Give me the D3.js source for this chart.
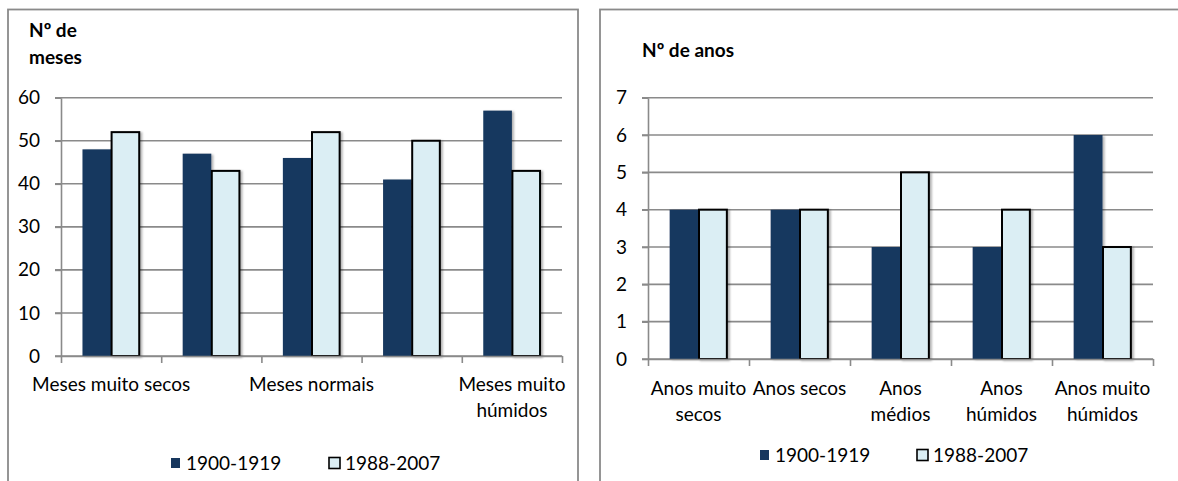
<!DOCTYPE html>
<html>
<head>
<meta charset="utf-8">
<script src="https://cdn.jsdelivr.net/npm/d3@7"></script>
<style>
  body { margin: 0; background: #fff; }
  svg { display: block; font-family: Lato, "Noto Sans", sans-serif; }
</style>
</head>
<body>
<div id="chart"></div>
<script>
const seriesNames = ["1900-1919", "1988-2007"];
const seriesColors = ["#17375e", "#dbeef4"];

const monthCategories = ["Meses muito secos", "Meses secos", "Meses normais", "Meses húmidos", "Meses muito húmidos"];
const months1900 = [48, 47, 46, 41, 57];
const months1988 = [52, 43, 52, 50, 43];
const monthTicks = [0, 10, 20, 30, 40, 50, 60];
// Excel only printed every second label here
const monthLabelLines = [["Meses muito secos"], [], ["Meses normais"], [], ["Meses muito", "húmidos"]];

const yearCategories = ["Anos muito secos", "Anos secos", "Anos médios", "Anos húmidos", "Anos muito húmidos"];
const years1900 = [4, 4, 3, 3, 6];
const years1988 = [4, 4, 5, 4, 3];
const yearTicks = [0, 1, 2, 3, 4, 5, 6, 7];
const yearLabelLines = [["Anos muito", "secos"], ["Anos secos"], ["Anos", "médios"], ["Anos", "húmidos"], ["Anos muito", "húmidos"]];

const width = 1178;
const height = 481;

const svg = d3.select("#chart")
  .append("svg")
  .attr("width", width)
  .attr("height", height);

const defs = svg.append("defs");
defs.append("filter")
  .attr("id", "shadow")
  .attr("x", "-20%").attr("y", "-5%")
  .attr("width", "150%").attr("height", "115%")
  .append("feDropShadow")
  .attr("dx", 2).attr("dy", 1)
  .attr("stdDeviation", 1.2)
  .attr("flood-color", "#000")
  .attr("flood-opacity", 0.3);

function drawPanel(cfg) {
  const g = svg.append("g");

  // frame of the chart area
  g.append("rect")
    .attr("x", cfg.box[0])
    .attr("y", 9.5)
    .attr("width", cfg.box[1] - cfg.box[0])
    .attr("height", 520)
    .attr("fill", "none")
    .attr("stroke", "#8a8a8a")
    .attr("stroke-width", 1.8);

  const y = d3.scaleLinear().domain(cfg.yDomain).range([cfg.y0, cfg.yTop]);
  const xLin = d3.scaleLinear().domain([0, cfg.categories.length]).range([cfg.x0, cfg.x1]);

  const pad = 1.5 / 3.5;
  const x = d3.scaleBand()
    .domain(cfg.categories)
    .range([cfg.x0, cfg.x1])
    .paddingInner(pad)
    .paddingOuter(pad / 2);
  const xs = d3.scaleBand().domain(seriesNames).range([0, x.bandwidth()]);

  // gridlines
  g.append("g")
    .selectAll("line")
    .data(cfg.ticks)
    .join("line")
    .attr("x1", cfg.x0 - 6)
    .attr("x2", cfg.x1)
    .attr("y1", (d) => y(d))
    .attr("y2", (d) => y(d))
    .attr("stroke", "#8a8a8a")
    .attr("stroke-width", 1.6);

  // y axis
  const yAxis = g.append("g")
    .attr("transform", `translate(${cfg.x0},0)`)
    .call(d3.axisLeft(y)
      .tickValues(cfg.ticks)
      .tickFormat(d3.format("d"))
      .tickSize(6)
      .tickSizeOuter(0)
      .tickPadding(15));
  yAxis.select(".domain").attr("stroke", "#8a8a8a").attr("stroke-width", 1.6);
  yAxis.selectAll(".tick line").attr("stroke", "#8a8a8a").attr("stroke-width", 1.6);
  yAxis.selectAll(".tick text")
    .attr("font-size", 19)
    .attr("font-family", "Lato, sans-serif")
    .attr("fill", "#000");

  // bars
  const rows = cfg.categories.map((c, i) => ({ cat: c, vals: [cfg.s1[i], cfg.s2[i]] }));
  const groups = g.append("g")
    .selectAll("g")
    .data(rows)
    .join("g")
    .attr("transform", (d) => `translate(${x(d.cat)},0)`);

  groups.selectAll("rect")
    .data((d) => d.vals.map((v, k) => ({ name: seriesNames[k], v, k })))
    .join("rect")
    .attr("x", (d) => xs(d.name) + (d.k === 1 ? 0.5 : 0))
    .attr("width", (d) => xs.bandwidth() - (d.k === 1 ? 1 : 0))
    .attr("y", (d) => y(d.v))
    .attr("height", (d) => y(0) - y(d.v))
    .attr("fill", (d) => seriesColors[d.k])
    .attr("stroke", (d) => (d.k === 1 ? "#000" : "none"))
    .attr("stroke-width", 2)
    .attr("filter", "url(#shadow)");

  // x axis with ticks on category boundaries
  const xAxis = g.append("g")
    .attr("transform", `translate(0,${cfg.y0})`)
    .call(d3.axisBottom(xLin)
      .tickValues(d3.range(cfg.categories.length + 1))
      .tickFormat("")
      .tickSize(7)
      .tickSizeOuter(0));
  xAxis.select(".domain").attr("stroke", "#8a8a8a").attr("stroke-width", 1.6);
  xAxis.selectAll(".tick line").attr("stroke", "#8a8a8a").attr("stroke-width", 1.6);

  // category labels
  const labels = g.append("g")
    .selectAll("text")
    .data(cfg.labelLines)
    .join("text")
    .attr("text-anchor", "middle")
    .attr("font-size", 19)
    .attr("fill", "#000")
    .attr("transform", (d, i) => `translate(${x(cfg.categories[i]) + x.bandwidth() / 2},${cfg.labelY})`);
  labels.selectAll("tspan")
    .data((d) => d)
    .join("tspan")
    .attr("x", 0)
    .attr("y", (d, j) => j * 26)
    .attr("dy", "0.35em")
    .text((d) => d);

  // title
  g.append("text")
    .attr("font-size", 19)
    .attr("font-weight", "bold")
    .attr("fill", "#000")
    .selectAll("tspan")
    .data(cfg.title)
    .join("tspan")
    .attr("x", cfg.titleX)
    .attr("y", (d, j) => cfg.titleY + j * 27)
    .attr("dy", "0.35em")
    .text((d) => d);

  // legend
  const legend = g.append("g").attr("transform", `translate(0,${cfg.legendY})`);
  seriesNames.forEach((name, k) => {
    const lx = cfg.legendX[k];
    if (k === 0) {
      legend.append("rect")
        .attr("x", lx).attr("y", -5)
        .attr("width", 9).attr("height", 10)
        .attr("fill", seriesColors[k]);
    } else {
      legend.append("rect")
        .attr("x", lx + 1).attr("y", -5.5)
        .attr("width", 11).attr("height", 11)
        .attr("fill", seriesColors[k])
        .attr("stroke", "#000")
        .attr("stroke-width", 1.6);
    }
    legend.append("text")
      .attr("x", lx + (k === 0 ? 15 : 17))
      .attr("dy", "0.35em")
      .attr("font-size", 19)
      .attr("fill", "#000")
      .text(name);
  });
}

drawPanel({
  box: [8, 578],
  categories: monthCategories,
  s1: months1900,
  s2: months1988,
  ticks: monthTicks,
  yDomain: [0, 60],
  labelLines: monthLabelLines,
  x0: 61, x1: 562, y0: 356, yTop: 97.7,
  labelY: 384,
  title: ["Nº de", "meses"],
  titleX: 29, titleY: 30,
  legendX: [171, 328],
  legendY: 463
});

drawPanel({
  box: [600, 1200],
  categories: yearCategories,
  s1: years1900,
  s2: years1988,
  ticks: yearTicks,
  yDomain: [0, 7],
  labelLines: yearLabelLines,
  x0: 648, x1: 1153, y0: 359, yTop: 97.7,
  labelY: 388,
  title: ["Nº de anos"],
  titleX: 642, titleY: 50,
  legendX: [760, 916],
  legendY: 455
});
</script>
</body>
</html>
